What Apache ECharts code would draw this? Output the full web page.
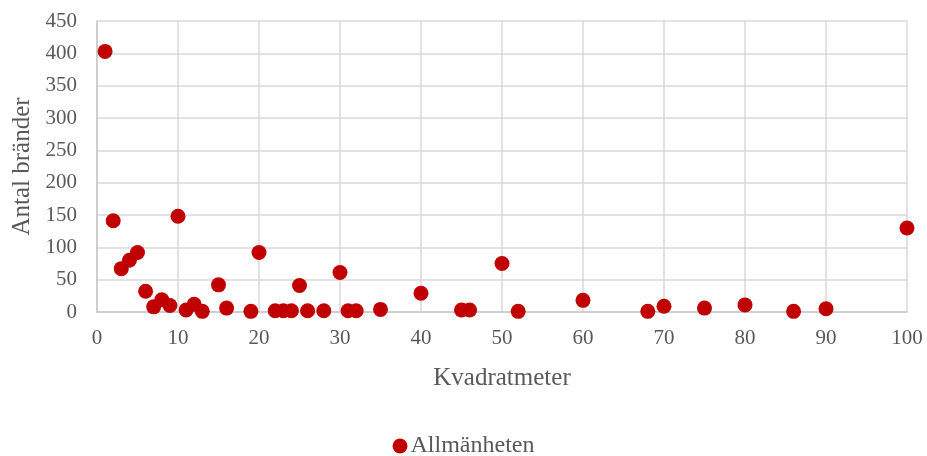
<!DOCTYPE html>
<html>
<head>
<meta charset="utf-8">
<script src="https://cdn.jsdelivr.net/npm/echarts@6/dist/echarts.min.js"></script>
<style>
  html, body { margin: 0; padding: 0; background: #fff; }
  #chart { width: 927px; height: 456px; }
</style>
</head>
<body>
<div id="chart"></div>
<script>
// Fire area (m²) and number of fires
const seriesName = 'Allmänheten';
const area = [1, 2, 3, 4, 5, 6, 7, 8, 9, 10, 11, 12, 13, 15, 16, 19, 20, 22, 23, 24, 25, 26, 28, 30, 31, 32, 35, 40, 45, 46, 50, 52, 60, 68, 70, 75, 80, 86, 90, 100];
const fires = [403, 141, 67, 80, 92, 32, 8, 19, 10, 148, 3, 12, 1, 42, 6, 1, 92, 2, 2, 2, 41, 2, 2, 61, 2, 2, 4, 29, 3, 3, 75, 1, 18, 1, 9, 6, 11, 1, 5, 130];
const xTitle = 'Kvadratmeter';
const yTitle = 'Antal bränder';

const points = area.map((x, i) => [x, fires[i]]);
const font = '"Liberation Serif", "DejaVu Serif", serif';
const textColor = '#595959';

const chart = echarts.init(document.getElementById('chart'), null, { renderer: 'canvas' });
chart.setOption({
  animation: false,
  backgroundColor: '#ffffff',
  grid: { left: 97, right: 20, top: 21, bottom: 144, containLabel: false },
  xAxis: {
    type: 'value',
    min: 0, max: 100, interval: 10,
    name: xTitle,
    nameLocation: 'middle',
    nameGap: 54,
    nameTextStyle: { fontFamily: font, fontSize: 25, color: textColor },
    axisLine: { show: true, lineStyle: { color: '#c8c8c8', width: 1.5 } },
    axisTick: { show: false },
    axisLabel: { fontFamily: font, fontSize: 21, color: textColor, margin: 16 },
    splitLine: { show: true, lineStyle: { color: '#d9d9d9', width: 1.5 } }
  },
  yAxis: {
    type: 'value',
    min: 0, max: 450, interval: 50,
    name: yTitle,
    nameLocation: 'middle',
    nameGap: 56,
    nameRotate: 90,
    nameTextStyle: { fontFamily: font, fontSize: 25, color: textColor },
    axisLine: { show: true, lineStyle: { color: '#c8c8c8', width: 1.5 } },
    axisTick: { show: false },
    axisLabel: { fontFamily: font, fontSize: 21, color: textColor, margin: 20 },
    splitLine: { show: true, lineStyle: { color: '#d9d9d9', width: 1.5 } }
  },
  legend: {
    top: 429,
    left: 'center',
    icon: 'circle',
    itemWidth: 15,
    itemHeight: 15,
    itemGap: 4,
    textStyle: { fontFamily: font, fontSize: 24, color: textColor, padding: [0, 0, 0, -2] },
    data: [seriesName]
  },
  series: [{
    name: seriesName,
    type: 'scatter',
    symbol: 'circle',
    symbolSize: 15,
    itemStyle: { color: '#c00000', opacity: 1 },
    data: points
  }]
});
</script>
</body>
</html>
